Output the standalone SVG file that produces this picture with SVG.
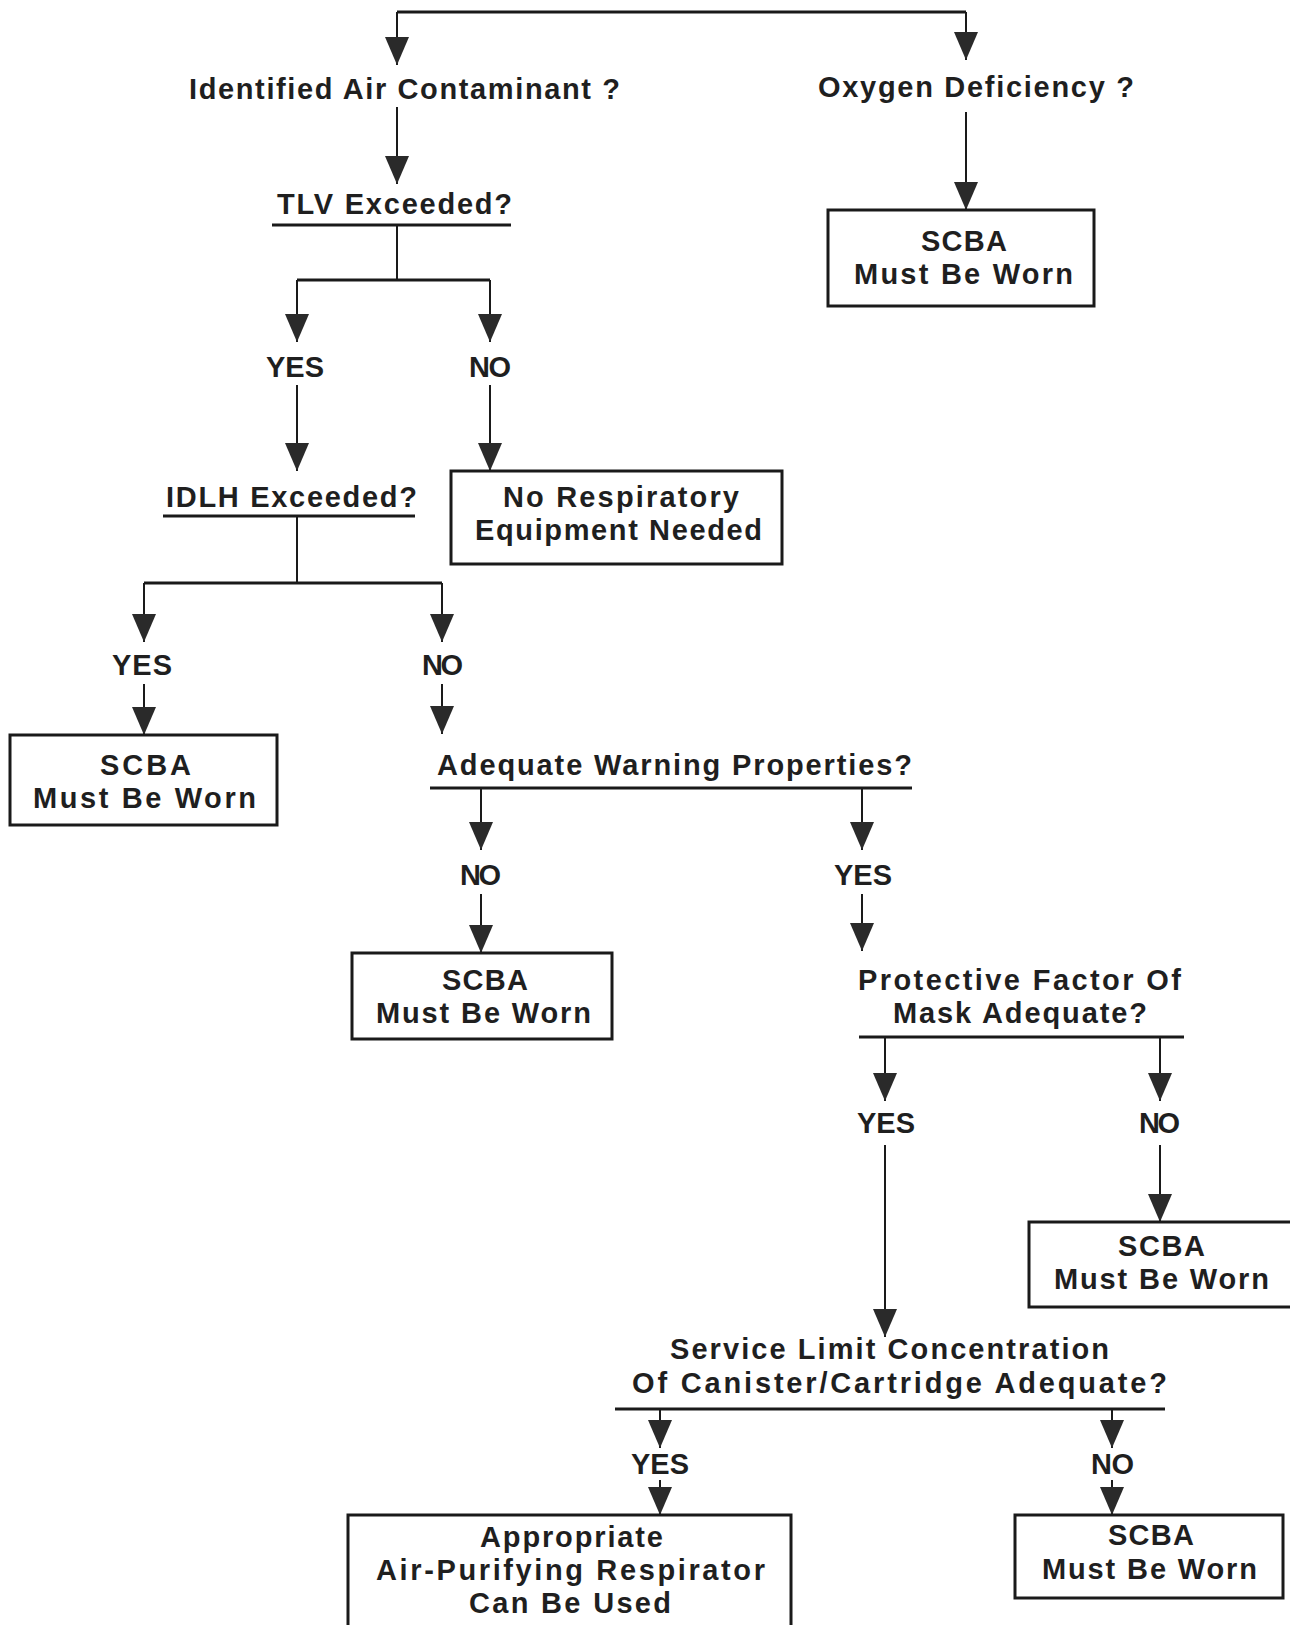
<svg xmlns="http://www.w3.org/2000/svg" width="1290" height="1625" viewBox="0 0 1290 1625">
  <style>
    .t { font-family: "Liberation Sans", Arial, sans-serif; font-size: 29px; font-weight: bold; fill: #1f1f1f; }
    .box { fill: #fff; stroke: #1a1a1a; stroke-width: 3; }
    .rule { stroke: #1a1a1a; stroke-width: 3; fill: none; }
    .wire { stroke: #1a1a1a; stroke-width: 2; fill: none; }
    .bar { stroke: #1a1a1a; stroke-width: 3; fill: none; }
    .arr { marker-end: url(#head); }
  </style>
  <defs>
    <marker id="head" markerUnits="userSpaceOnUse" markerWidth="28" markerHeight="26" viewBox="0 -13 28 26" refX="28" refY="0" orient="auto" overflow="visible">
      <path d="M0,-12 L28,0 L0,12 z" fill="#2a2a2a"/>
    </marker>
  </defs>
  <rect width="1290" height="1625" fill="#fff"/>

  <!-- connectors -->
  <g id="connectors">
    <path class="bar" d="M397,12 H966"/>
    <path class="wire arr" d="M397,12 V65"/>
    <path class="wire arr" d="M966,12 V60"/>
    <path class="wire arr" d="M397,107 V184"/>
    <path class="wire arr" d="M966,112 V210"/>

    <path class="wire" d="M397,225 V280"/>
    <path class="bar" d="M297,280 H490"/>
    <path class="wire arr" d="M297,280 V342"/>
    <path class="wire arr" d="M490,280 V342"/>
    <path class="wire arr" d="M297,385 V471"/>
    <path class="wire arr" d="M490,385 V471"/>

    <path class="wire" d="M297,516 V583"/>
    <path class="bar" d="M144,583 H442"/>
    <path class="wire arr" d="M144,583 V642"/>
    <path class="wire arr" d="M442,583 V642"/>
    <path class="wire arr" d="M144,684 V735"/>
    <path class="wire arr" d="M442,684 V734"/>

    <path class="wire arr" d="M481,788 V850"/>
    <path class="wire arr" d="M862,788 V850"/>
    <path class="wire arr" d="M481,894 V953"/>
    <path class="wire arr" d="M862,894 V951"/>

    <path class="wire arr" d="M885,1037 V1101"/>
    <path class="wire arr" d="M1160,1037 V1101"/>
    <path class="wire arr" d="M1160,1145 V1222"/>
    <path class="wire arr" d="M885,1145 V1337"/>

    <path class="wire arr" d="M660,1409 V1448"/>
    <path class="wire arr" d="M1112,1409 V1448"/>
    <path class="wire arr" d="M660,1480 V1515"/>
    <path class="wire arr" d="M1112,1480 V1515"/>
  </g>

  <!-- decisions and outcomes -->
  <g id="identified">
    <text class="t" x="189" y="99" textLength="431" lengthAdjust="spacing">Identified Air Contaminant ?</text>
  </g>
  <g id="oxygen">
    <text class="t" x="818" y="97" textLength="316" lengthAdjust="spacing">Oxygen Deficiency ?</text>
  </g>
  <g id="scba-oxygen">
    <rect class="box" x="828" y="210" width="266" height="96"/>
    <text class="t" x="921" y="251" textLength="86" lengthAdjust="spacing">SCBA</text>
    <text class="t" x="854" y="284" textLength="219" lengthAdjust="spacing">Must Be Worn</text>
  </g>

  <g id="tlv">
    <text class="t" x="277" y="214" textLength="235" lengthAdjust="spacing">TLV Exceeded?</text>
    <path class="rule" d="M272,225 H511"/>
  </g>
  <g id="tlv-yes">
    <text class="t" x="266" y="377" textLength="58" lengthAdjust="spacing">YES</text>
  </g>
  <g id="tlv-no">
    <text class="t" x="469" y="377" textLength="42" lengthAdjust="spacing">NO</text>
  </g>
  <g id="no-respiratory">
    <rect class="box" x="451" y="471" width="331" height="93"/>
    <text class="t" x="503" y="507" textLength="236" lengthAdjust="spacing">No Respiratory</text>
    <text class="t" x="475" y="540" textLength="287" lengthAdjust="spacing">Equipment Needed</text>
  </g>

  <g id="idlh">
    <text class="t" x="166" y="507" textLength="251" lengthAdjust="spacing">IDLH Exceeded?</text>
    <path class="rule" d="M163,516 H415"/>
  </g>
  <g id="idlh-yes">
    <text class="t" x="112" y="675" textLength="60" lengthAdjust="spacing">YES</text>
  </g>
  <g id="idlh-no">
    <text class="t" x="422" y="675" textLength="41" lengthAdjust="spacing">NO</text>
  </g>
  <g id="scba-idlh">
    <rect class="box" x="10" y="735" width="267" height="90"/>
    <text class="t" x="100" y="775" textLength="91" lengthAdjust="spacing">SCBA</text>
    <text class="t" x="33" y="808" textLength="223" lengthAdjust="spacing">Must Be Worn</text>
  </g>

  <g id="warning">
    <text class="t" x="437" y="775" textLength="475" lengthAdjust="spacing">Adequate Warning Properties?</text>
    <path class="rule" d="M430,788 H912"/>
  </g>
  <g id="warning-no">
    <text class="t" x="460" y="885" textLength="41" lengthAdjust="spacing">NO</text>
  </g>
  <g id="warning-yes">
    <text class="t" x="834" y="885" textLength="58" lengthAdjust="spacing">YES</text>
  </g>
  <g id="scba-warning">
    <rect class="box" x="352" y="953" width="260" height="86"/>
    <text class="t" x="442" y="990" textLength="86" lengthAdjust="spacing">SCBA</text>
    <text class="t" x="376" y="1023" textLength="215" lengthAdjust="spacing">Must Be Worn</text>
  </g>

  <g id="mask">
    <text class="t" x="858" y="990" textLength="323" lengthAdjust="spacing">Protective Factor Of</text>
    <text class="t" x="893" y="1023" textLength="254" lengthAdjust="spacing">Mask Adequate?</text>
    <path class="rule" d="M859,1037 H1184"/>
  </g>
  <g id="mask-yes">
    <text class="t" x="857" y="1133" textLength="58" lengthAdjust="spacing">YES</text>
  </g>
  <g id="mask-no">
    <text class="t" x="1139" y="1133" textLength="41" lengthAdjust="spacing">NO</text>
  </g>
  <g id="scba-mask">
    <rect class="box" x="1029" y="1222" width="275" height="85"/>
    <text class="t" x="1118" y="1256" textLength="87" lengthAdjust="spacing">SCBA</text>
    <text class="t" x="1054" y="1289" textLength="215" lengthAdjust="spacing">Must Be Worn</text>
  </g>

  <g id="canister">
    <text class="t" x="670" y="1359" textLength="439" lengthAdjust="spacing">Service Limit Concentration</text>
    <text class="t" x="632" y="1393" textLength="535" lengthAdjust="spacing">Of Canister/Cartridge Adequate?</text>
    <path class="rule" d="M615,1409 H1165"/>
  </g>
  <g id="canister-yes">
    <text class="t" x="631" y="1474" textLength="58" lengthAdjust="spacing">YES</text>
  </g>
  <g id="canister-no">
    <text class="t" x="1091" y="1474" textLength="43" lengthAdjust="spacing">NO</text>
  </g>
  <g id="air-purifying">
    <rect class="box" x="348" y="1515" width="443" height="130"/>
    <text class="t" x="480" y="1547" textLength="183" lengthAdjust="spacing">Appropriate</text>
    <text class="t" x="376" y="1580" textLength="389" lengthAdjust="spacing">Air-Purifying Respirator</text>
    <text class="t" x="469" y="1613" textLength="202" lengthAdjust="spacing">Can Be Used</text>
  </g>
  <g id="scba-canister">
    <rect class="box" x="1015" y="1515" width="268" height="83"/>
    <text class="t" x="1108" y="1545" textLength="86" lengthAdjust="spacing">SCBA</text>
    <text class="t" x="1042" y="1579" textLength="215" lengthAdjust="spacing">Must Be Worn</text>
  </g>
</svg>
